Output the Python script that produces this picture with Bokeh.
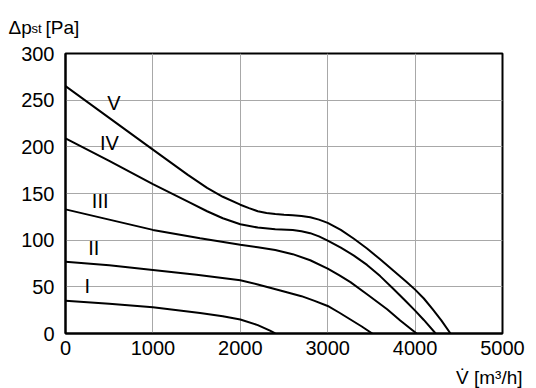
from bokeh.plotting import figure
from bokeh.layouts import column
from bokeh.models import Label, FixedTicker, Range1d
from bokeh.embed import file_html
from bokeh.resources import INLINE

FONT = "Liberation Sans"

# ---- data ----
x_ticks = [0, 1000, 2000, 3000, 4000, 5000]
y_ticks = [0, 50, 100, 150, 200, 250, 300]

curve_names = ["I", "II", "III", "IV", "V"]

flow_I = [0, 500, 1000, 1540, 1800, 2000, 2200, 2340, 2400]
dp_I = [35, 32, 28, 22, 18.5, 15, 9, 3, 0]

flow_II = [0, 500, 1000, 1500, 2000, 2200, 2340, 2500, 2700, 2850, 3000, 3130, 3260, 3390, 3510]
dp_II = [77, 73, 68, 63, 57, 52.5, 49, 45, 40, 35, 29.5, 22.5, 15, 7.5, 0]

flow_III = [0, 500, 1000, 1540, 2000, 2200, 2400, 2600, 2800, 3000, 3130, 3260, 3450, 3680, 3830, 4017]
dp_III = [133, 122, 111, 102, 95, 92.5, 89.5, 85, 78.5, 69.5, 62.5, 55, 42, 26, 14, 0]

flow_IV = [0, 500, 1000, 1430, 1620, 1800, 2000, 2200, 2400, 2600, 2700, 2800, 2900, 3000,
           3150, 3300, 3450, 3600, 3750, 3900, 4000, 4100, 4235]
dp_IV = [209, 185, 160, 140, 131, 123.5, 117, 113.5, 111.8, 110.8, 109.5, 107.5, 104, 99.5,
         92, 83.5, 73.5, 61.5, 48, 34, 24.5, 14.5, 0]

flow_V = [0, 500, 1000, 1400, 1620, 1800, 2000, 2100, 2200, 2300, 2400, 2500, 2600, 2700,
          2800, 2900, 3000, 3150, 3300, 3450, 3600, 3750, 3900, 4000, 4100, 4200, 4300, 4405]
dp_V = [265, 231, 197, 170, 156, 146.5, 138, 134.3, 131, 129, 128, 127.3, 126.7, 126,
        124.5, 122, 118.5, 111, 101.5, 91, 79.5, 67.5, 55.5, 47, 37.5, 26, 14, 0]

label_x = [248, 324, 397, 503, 555]
label_y = [50.7, 91.6, 142.5, 204, 247.5]

flows = [flow_I, flow_II, flow_III, flow_IV, flow_V]
dps = [dp_I, dp_II, dp_III, dp_IV, dp_V]

W = 536


def text_strip(h):
    f = figure(width=W, height=h, output_backend="svg", toolbar_location=None,
               x_range=Range1d(0, W), y_range=Range1d(h, 0),
               x_axis_location=None, y_axis_location=None, frame_align=False,
               min_border_left=0, min_border_right=0, min_border_top=0, min_border_bottom=0)
    f.outline_line_color = None
    f.background_fill_color = "white"
    f.border_fill_color = "white"
    f.grid.visible = False
    return f


# ---- top strip: y-axis title ----
TOP_H = 40
top = text_strip(TOP_H)
top.add_layout(Label(x=8, y=26.5, text="\u0394p", text_font=FONT, text_font_size="19px",
                     text_align="left", text_baseline="alphabetic", text_color="black"))
top.add_layout(Label(x=31, y=27.5, text="st", text_font=FONT, text_font_size="13px",
                     text_align="left", text_baseline="alphabetic", text_color="black"))
top.add_layout(Label(x=45, y=26.5, text="[Pa]", text_font=FONT, text_font_size="19px",
                     text_align="left", text_baseline="alphabetic", text_color="black"))

# ---- main chart ----
p = figure(width=W, height=320, output_backend="svg", toolbar_location=None,
           x_range=Range1d(0, 5000), y_range=Range1d(0, 300), frame_align=False,
           min_border_left=65, min_border_right=34, min_border_top=53 - TOP_H, min_border_bottom=27)
p.background_fill_color = "white"
p.border_fill_color = "white"
p.outline_line_color = "black"
p.outline_line_width = 2

for ax in (p.xaxis[0], p.yaxis[0]):
    ax.axis_line_color = "black"
    ax.axis_line_width = 2
    ax.major_tick_out = 0
    ax.major_tick_in = 0
    ax.minor_tick_out = 0
    ax.minor_tick_in = 0
    ax.major_label_text_font = FONT
    ax.major_label_text_font_size = "20px"
    ax.major_label_text_color = "black"

p.xaxis[0].ticker = FixedTicker(ticks=x_ticks)
p.yaxis[0].ticker = FixedTicker(ticks=y_ticks)
p.xaxis[0].major_label_standoff = 7
p.yaxis[0].major_label_standoff = 11

p.grid.grid_line_color = "#a8a8a8"
p.grid.grid_line_width = 1
p.xgrid[0].ticker = FixedTicker(ticks=x_ticks)
p.ygrid[0].ticker = FixedTicker(ticks=y_ticks)

for fx, fy in zip(flows, dps):
    p.line(fx, fy, line_color="black", line_width=2)

for name, lx, ly in zip(curve_names, label_x, label_y):
    p.add_layout(Label(x=lx, y=ly, text=name, text_font=FONT, text_font_size="20px",
                       text_align="center", text_baseline="middle", text_color="black"))

# ---- bottom strip: x-axis title ----
bottom = text_strip(28)
bottom.add_layout(Label(x=522, y=16.7, text="V\u0307 [m\u00b3/h]", text_font=FONT, text_font_size="19px",
                        text_align="right", text_baseline="alphabetic", text_color="black"))

layout = column(top, p, bottom, spacing=0)
open("out.html", "w").write(file_html(layout, INLINE))
